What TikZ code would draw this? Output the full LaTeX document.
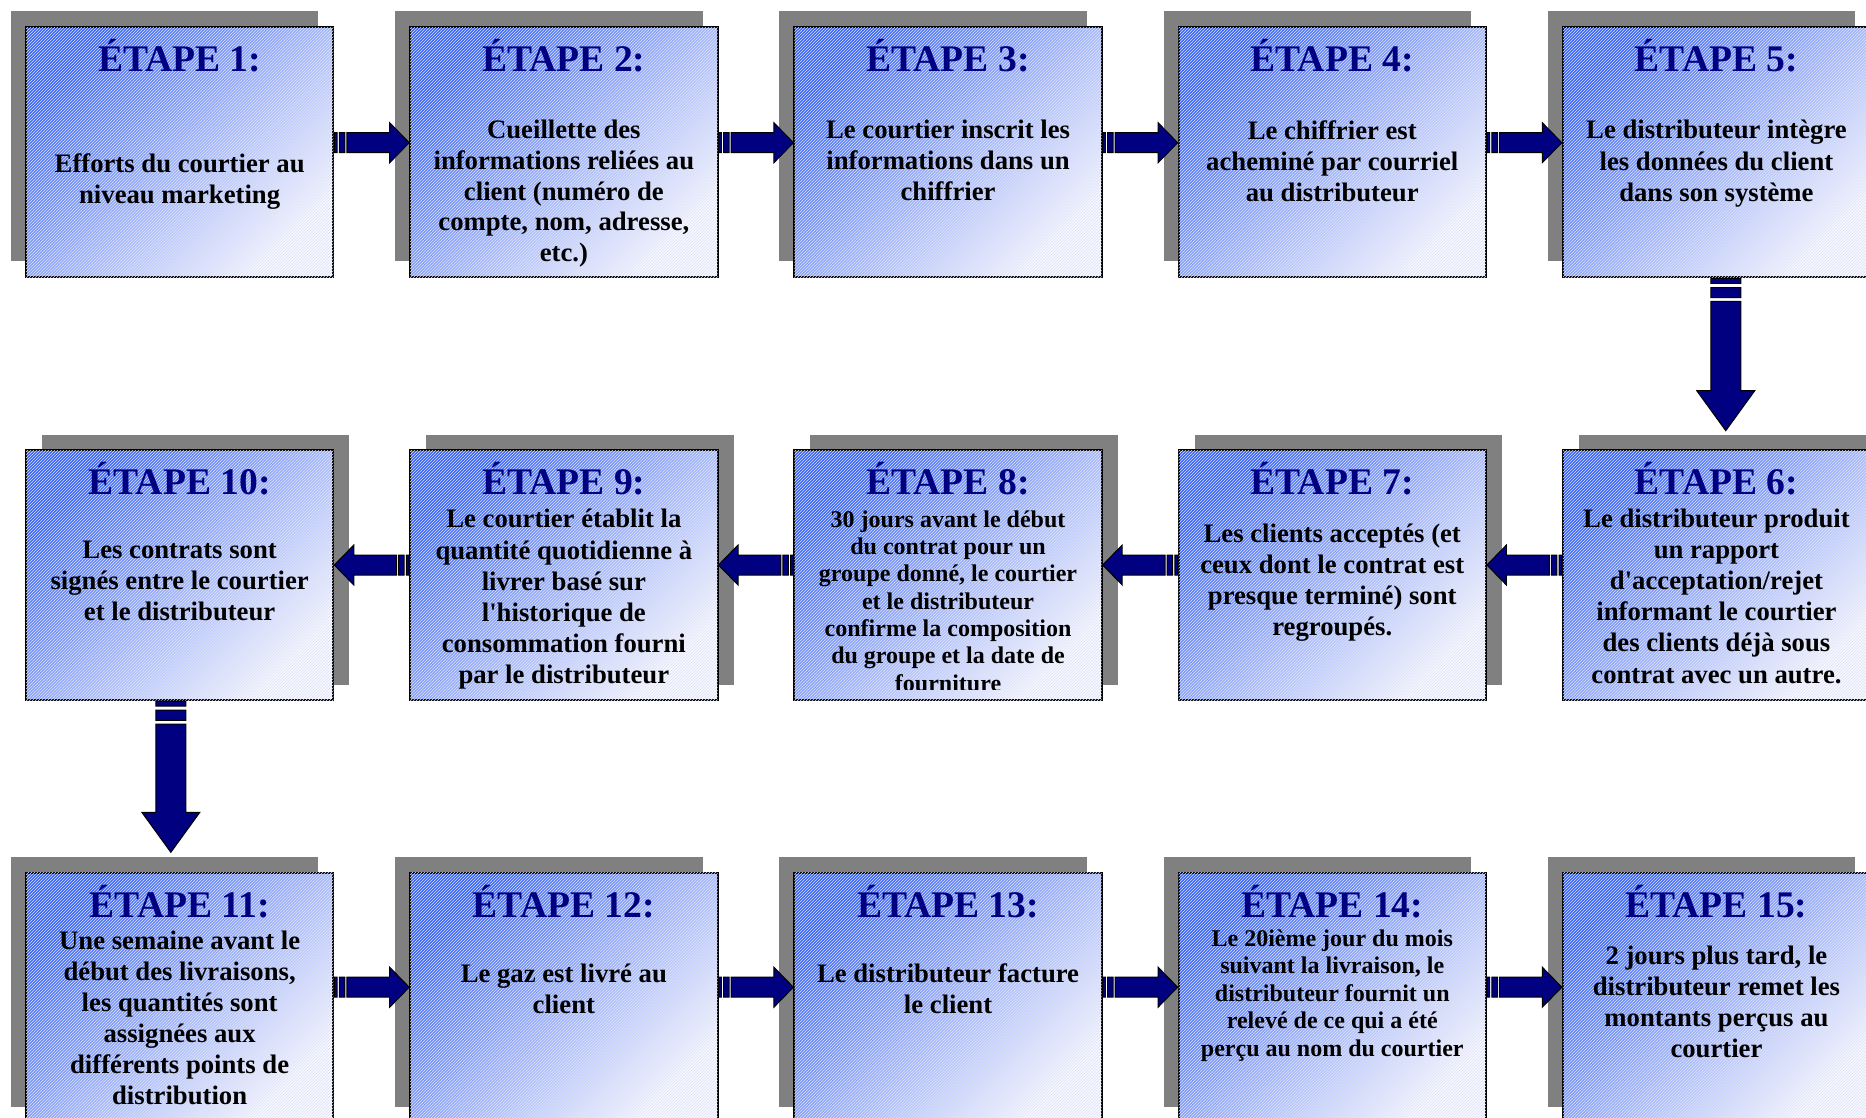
\documentclass[tikz,border=0pt]{standalone}
\usepackage{fontspec}
\setmainfont{Liberation Serif}[Ligatures=TeXOff]
\usetikzlibrary{positioning, calc, shadows, patterns}

\definecolor{marine}{RGB}{0,0,128}
\definecolor{bleu}{RGB}{55,100,246}
\definecolor{pale}{RGB}{248,248,255}
\definecolor{ombre}{RGB}{128,128,128}
\definecolor{hachure}{RGB}{222,226,246}

\begin{document}
\begin{tikzpicture}[x = 1pt, y = 1pt, % one unit = one pixel
        node distance = 384.2pt, % centre to centre in a row
        fleche/.style n args = {4}{draw = black, line width = 1pt, fill = marine,
            to path = {let \p1 = (\tikztostart), \p2 = (\tikztotarget),
                \n1 = {atan2(\y2-\y1,\x2-\x1)}, \n2 = {veclen(\x2-\x1,\y2-\y1)} in
                {[shift = {(\p1)}, rotate = \n1]
                (0,-#1) -- (1.1*#4,-#1) -- (1.1*#4,#1) -- (0,#1) -- cycle
                (2*#4,-#1) -- (4.2*#4,-#1) -- (4.2*#4,#1) -- (2*#4,#1) -- cycle
                (5*#4,-#1) -- (\n2-#3,-#1) -- (\n2-#3,-#2) -- (\n2,0)
                -- (\n2-#3,#2) -- (\n2-#3,#1) -- (5*#4,#1) -- cycle}}},
        horiz/.style = {fleche = {10}{20}{19.5}{2.5}}, % striped arrow in a row
        vert/.style = {fleche = {15}{29}{40}{4.6}}, % striped arrow down
        texte/.style = {font = \bfseries\fontsize{26.7}{#1}\selectfont,
            align = center, inner sep = 0pt},
        texte/.default = 31,
        petit/.style = {font = \bfseries\fontsize{24}{#1}\selectfont}
    ]

    \tikzstyle{etape} = [draw = black, line width = 2pt, inner sep = 0pt,
    minimum width = 307.3pt, minimum height = 250pt,
    top color = bleu, bottom color = pale, shading angle = 45,
    postaction = {pattern = north east lines, pattern color = hachure}]
    \tikzstyle{ombre1} = [drop shadow = {shadow xshift = -15pt,
        shadow yshift = 16pt, fill = ombre, opacity = 1}]
    \tikzstyle{ombre2} = [drop shadow = {shadow xshift = 16pt,
        shadow yshift = 15.5pt, fill = ombre, opacity = 1}]
    \tikzstyle{titre} = [font = \bfseries\fontsize{37.6}{42}\selectfont,
    text = marine, anchor = base, inner sep = 0pt]

    \useasboundingbox (0,0) rectangle (1866,-1117);
    \clip (0,0) rectangle (1866,-1117);

    % boxes
    \node[etape, ombre1] (1) at (179.65,-152.3) {};
    \node[etape, ombre1] (2) [right of=1] {};
    \node[etape, ombre1] (3) [right of=2] {};
    \node[etape, ombre1] (4) [right of=3] {};
    \node[etape, ombre1] (5) [right of=4] {};
    \node[etape, ombre2] (6) [node distance=422.7pt, below of=5] {};
    \node[etape, ombre2] (7) [left of=6] {};
    \node[etape, ombre2] (8) [left of=7] {};
    \node[etape, ombre2] (9) [left of=8] {};
    \node[etape, ombre2] (10) [left of=9] {};
    \node[etape, ombre1] (11) [node distance=422.7pt, below of=10] {};
    \node[etape, ombre1] (12) [right of=11] {};
    \node[etape, ombre1] (13) [right of=12] {};
    \node[etape, ombre1] (14) [right of=13] {};
    \node[etape, ombre1] (15) [right of=14] {};

    % titles
    \node[titre] (t1) at ([yshift=-45.5pt]1.north) {ÉTAPE 1:};
    \node[titre] (t2) at ([yshift=-45.5pt]2.north) {ÉTAPE 2:};
    \node[titre] (t3) at ([yshift=-45.5pt]3.north) {ÉTAPE 3:};
    \node[titre] (t4) at ([yshift=-45.5pt]4.north) {ÉTAPE 4:};
    \node[titre] (t5) at ([yshift=-45.5pt]5.north) {ÉTAPE 5:};
    \node[titre] (t6) at ([yshift=-45.5pt]6.north) {ÉTAPE 6:};
    \node[titre] (t7) at ([yshift=-45.5pt]7.north) {ÉTAPE 7:};
    \node[titre] (t8) at ([yshift=-45.5pt]8.north) {ÉTAPE 8:};
    \node[titre] (t9) at ([yshift=-45.5pt]9.north) {ÉTAPE 9:};
    \node[titre] (t10) at ([yshift=-45.5pt]10.north) {ÉTAPE 10:};
    \node[titre] (t11) at ([yshift=-45.5pt]11.north) {ÉTAPE 11:};
    \node[titre] (t12) at ([yshift=-45.5pt]12.north) {ÉTAPE 12:};
    \node[titre] (t13) at ([yshift=-45.5pt]13.north) {ÉTAPE 13:};
    \node[titre] (t14) at ([yshift=-45.5pt]14.north) {ÉTAPE 14:};
    \node[titre] (t15) at ([yshift=-45.5pt]15.north) {ÉTAPE 15:};

    % texts
    \node[texte] (b1) at ([yshift=-155pt]1.north)
    {Efforts du courtier au\\niveau marketing};
    \node[texte=30.6] (b2) at ([yshift=-167.3pt]2.north)
    {Cueillette des\\informations reliées au\\client (numéro de\\compte, nom, adresse,\\etc.)};
    \node[texte] (b3) at ([yshift=-134.5pt]3.north)
    {Le courtier inscrit les\\informations dans un\\chiffrier};
    \node[texte] (b4) at ([yshift=-134.5pt]4.north)
    {Le chiffrier est\\acheminé par courriel\\au distributeur};
    \node[texte=31.5] (b5) at ([yshift=-137.5pt]5.north)
    {Le distributeur intègre\\les données du client\\dans son système};
    \node[texte=31.2] (b6) at ([yshift=-147pt]6.north)
    {Le distributeur produit\\un rapport\\d'acceptation/rejet\\informant le courtier\\des clients déjà sous\\contrat avec un autre.};
    \node[texte] (b7) at ([yshift=-134pt]7.north)
    {Les clients acceptés (et\\ceux dont le contrat est\\presque terminé) sont\\regroupés.};
    \begin{scope}
        \clip ([yshift=12pt]8.south west) rectangle (8.north east);
        \node[texte, petit=27.3] (b8) at ([yshift=-152pt]8.north)
        {30 jours avant le début\\du contrat pour un\\groupe donné, le courtier\\et le distributeur\\confirme la composition\\du groupe et la date de\\fourniture};
    \end{scope}
    \node[texte=31.2] (b9) at ([yshift=-150.5pt]9.north)
    {Le courtier établit la\\quantité quotidienne à\\livrer basé sur\\l'historique de\\consommation fourni\\par le distributeur};
    \node[texte] (b10) at ([yshift=-132pt]10.north)
    {Les contrats sont\\signés entre le courtier\\et le distributeur};
    \node[texte] (b11) at ([yshift=-146pt]11.north)
    {Une semaine avant le\\début des livraisons,\\les quantités sont\\assignées aux\\différents points de\\distribution};
    \node[texte] (b12) at ([yshift=-117.5pt]12.north)
    {Le gaz est livré au\\client};
    \node[texte] (b13) at ([yshift=-117.5pt]13.north)
    {Le distributeur facture\\le client};
    \node[texte, petit=27.5] (b14) at ([yshift=-124pt]14.north)
    {Le 20ième jour du mois\\suivant la livraison, le\\distributeur fournit un\\relevé de ce qui a été\\perçu au nom du courtier};
    \node[texte] (b15) at ([yshift=-130.5pt]15.north)
    {2 jours plus tard, le\\distributeur remet les\\montants perçus au\\courtier};

    % arrows
    \path ([yshift=9.6pt]1.east) edge[horiz] ([yshift=9.6pt]2.west);
    \path ([yshift=9.6pt]2.east) edge[horiz] ([yshift=9.6pt]3.west);
    \path ([yshift=9.6pt]3.east) edge[horiz] ([yshift=9.6pt]4.west);
    \path ([yshift=9.6pt]4.east) edge[horiz] ([yshift=9.6pt]5.west);
    \path ([xshift=9.3pt]5.south) edge[vert] ([xshift=9.3pt, yshift=18.3pt]6.north);
    \path ([yshift=10pt]6.west) edge[horiz] ([yshift=10pt]7.east);
    \path ([yshift=10pt]7.west) edge[horiz] ([yshift=10pt]8.east);
    \path ([yshift=10pt]8.west) edge[horiz] ([yshift=10pt]9.east);
    \path ([yshift=10pt]9.west) edge[horiz] ([yshift=10pt]10.east);
    \path ([xshift=-8.8pt]10.south) edge[vert] ([xshift=-8.8pt, yshift=19.4pt]11.north);
    \path ([yshift=10.5pt]11.east) edge[horiz] ([yshift=10.5pt]12.west);
    \path ([yshift=10.5pt]12.east) edge[horiz] ([yshift=10.5pt]13.west);
    \path ([yshift=10.5pt]13.east) edge[horiz] ([yshift=10.5pt]14.west);
    \path ([yshift=10.5pt]14.east) edge[horiz] ([yshift=10.5pt]15.west);
\end{tikzpicture}
\end{document}
